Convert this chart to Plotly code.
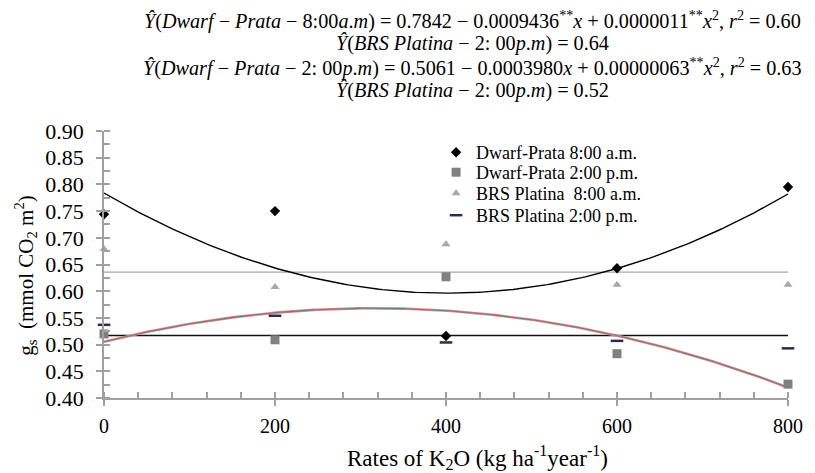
import numpy as np
import plotly.graph_objects as go

# ---- data ----
rates = [0, 200, 400, 600, 800]
dwarf_8am = [0.744, 0.750, 0.516, 0.643, 0.795]
dwarf_2pm = [0.520, 0.509, 0.627, 0.483, 0.426]
brs_8am = [0.679, 0.608, 0.688, 0.612, 0.612]
brs_2pm = [0.537, 0.554, 0.504, 0.507, 0.493]

series_names = ["Dwarf-Prata 8:00 a.m.", "Dwarf-Prata 2:00 p.m.",
                "BRS Platina  8:00 a.m.", "BRS Platina 2:00 p.m."]

y_ticks = [0.40, 0.45, 0.50, 0.55, 0.60, 0.65, 0.70, 0.75, 0.80, 0.85, 0.90]
x_ticks = [0, 200, 400, 600, 800]

header_lines = [
    "<i>Ŷ</i>(<i>Dwarf</i> − <i>Prata</i> − 8:00<i>a</i>.<i>m</i>) = 0.7842 − 0.0009436<sup>**</sup><i>x</i> + 0.0000011<sup>**</sup><i>x</i><sup>2</sup>, <i>r</i><sup>2</sup> = 0.60",
    "<i>Ŷ</i>(<i>BRS Platina</i> − 2: 00<i>p</i>.<i>m</i>) = 0.64",
    "<i>Ŷ</i>(<i>Dwarf</i> − <i>Prata</i> − 2: 00<i>p</i>.<i>m</i>) = 0.5061 − 0.0003980<i>x</i> + 0.00000063<sup>**</sup><i>x</i><sup>2</sup>, <i>r</i><sup>2</sup> = 0.63",
    "<i>Ŷ</i>(<i>BRS Platina</i> − 2: 00<i>p</i>.<i>m</i>) = 0.52",
]

FONT = "Times New Roman, Liberation Serif, serif"
xs = np.asarray(rates, dtype=float)
xfine = np.linspace(0, 800, 200)

def quad_fit(y, xx):
    c = np.polyfit(xs, np.asarray(y), 2)
    return np.polyval(c, xx)

def mean_line(y, xx):
    return np.full_like(xx, float(np.mean(y)))

fig = go.Figure()

# trendlines
fig.add_trace(go.Scatter(x=xfine, y=mean_line(brs_8am, xfine) - 0.004, mode="lines",
                         line=dict(color="#a6a6a6", width=1.3), showlegend=False, hoverinfo="skip"))
fig.add_trace(go.Scatter(x=xfine, y=mean_line(brs_2pm, xfine) - 0.002, mode="lines",
                         line=dict(color="#111111", width=1.3), showlegend=False, hoverinfo="skip"))
fig.add_trace(go.Scatter(x=xfine, y=quad_fit(dwarf_8am, xfine), mode="lines",
                         line=dict(color="#000000", width=1.4), showlegend=False, hoverinfo="skip"))
fig.add_trace(go.Scatter(x=xfine, y=quad_fit(dwarf_2pm, xfine), mode="lines",
                         line=dict(color="#e08a8a", width=2.6), showlegend=False, hoverinfo="skip"))
fig.add_trace(go.Scatter(x=xfine, y=quad_fit(dwarf_2pm, xfine), mode="lines",
                         line=dict(color="#7a7a7a", width=1.1), showlegend=False, hoverinfo="skip"))

# markers (each in its own legend so rows can be spaced like the reference)
fig.add_trace(go.Scatter(x=rates, y=dwarf_8am, mode="markers", name=series_names[0],
                         cliponaxis=False, legend="legend",
                         marker=dict(symbol="diamond", size=8, color="#000000")))
fig.add_trace(go.Scatter(x=rates, y=dwarf_2pm, mode="markers", name=series_names[1],
                         cliponaxis=False, legend="legend2",
                         marker=dict(symbol="square", size=9, color="#808080")))
fig.add_trace(go.Scatter(x=rates, y=brs_8am, mode="markers", name=series_names[2],
                         cliponaxis=False, legend="legend3",
                         marker=dict(symbol="triangle-up", size=8, color="#a8a8a8")))
fig.add_trace(go.Scatter(x=rates, y=brs_2pm, mode="markers", name=series_names[3],
                         cliponaxis=False, legend="legend4",
                         marker=dict(symbol="line-ew", size=9, color="#2f2a4c",
                                     line=dict(color="#2f2a4c", width=2.5))))

axis_common = dict(showgrid=False, zeroline=False, showline=True, linecolor="#a0a0a0",
                   linewidth=1.5, ticks="outside", tickcolor="#a0a0a0", tickwidth=1.5,
                   ticklen=6)

fig.update_xaxes(range=[0, 800], tickvals=x_ticks, ticktext=[str(v) for v in x_ticks],
                 ticklabelstandoff=3, tickfont=dict(family=FONT, size=20, color="#000000"),
                 minor=dict(dtick=40, tick0=0, ticks="inside", ticklen=6, tickcolor="#a0a0a0", tickwidth=1.5),
                 **axis_common)
fig.update_yaxes(range=[0.40, 0.90], tickvals=y_ticks, ticktext=[f"{v:.2f}" for v in y_ticks],
                 ticklabelstandoff=8, tickfont=dict(family=FONT, size=22, color="#000000"),
                 minor=dict(dtick=0.025, tick0=0.40, ticks="inside", ticklen=6, tickcolor="#a0a0a0", tickwidth=1.5),
                 **axis_common)

# page body has an 8px margin, so the figure is offset by 8px in the screenshot
OFF = 8
W, H = 815 - OFF, 473 - OFF
L, R, T, B = 104 - OFF, 21, 131 - OFF, 75
pw, ph = W - L - R, H - T - B

def px_x(p):  # screenshot pixel -> paper
    return (p - OFF - L) / pw

def px_y(p):
    return (H - B - (p - OFF)) / ph

anns = []
header_y = [20, 43, 67, 90]
for line, hy in zip(header_lines, header_y):
    anns.append(dict(text=line, x=px_x(476), y=px_y(hy), xref="paper", yref="paper",
                     xanchor="center", yanchor="middle", showarrow=False,
                     font=dict(family=FONT, size=20.2, color="#000000")))
anns.append(dict(text="g<sub>s</sub>  (mmol CO<sub>2</sub> m<sup>2</sup>)", x=px_x(24), y=px_y(276),
                 xref="paper", yref="paper", xanchor="center", yanchor="middle", textangle=-90,
                 showarrow=False, font=dict(family=FONT, size=21, color="#000000")))
anns.append(dict(text="Rates of K<sub>2</sub>O (kg ha<sup>-1</sup>year<sup>-1</sup>)", x=px_x(481), y=px_y(457),
                 xref="paper", yref="paper", xanchor="center", yanchor="middle",
                 showarrow=False, font=dict(family=FONT, size=23, color="#000000")))

row_centers = [152, 172, 193, 215]
legends = {}
for i, yc in enumerate(row_centers):
    key = "legend" if i == 0 else f"legend{i + 1}"
    legends[key] = dict(x=px_x(439), y=px_y(yc - 18), xanchor="left", yanchor="top",
                        bgcolor="rgba(0,0,0,0)", itemwidth=30,
                        font=dict(family=FONT, size=18, color="#000000"))

fig.update_layout(
    width=W, height=H, margin=dict(l=L, r=R, t=T, b=B),
    paper_bgcolor="white", plot_bgcolor="white",
    annotations=anns,
    **legends,
)

fig.write_html("out.html")
